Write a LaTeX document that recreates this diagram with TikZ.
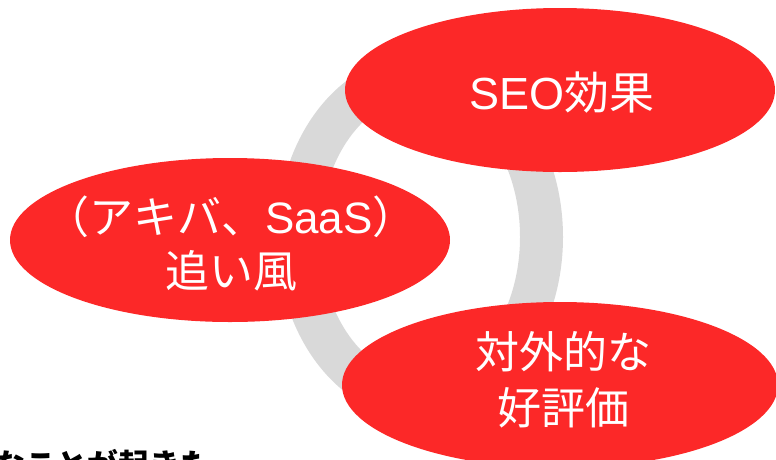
\documentclass[tikz,border=0pt]{standalone}
\usepackage{fontspec}
\setmainfont{Liberation Sans}
\newfontfamily\cjk{Noto Sans CJK JP}
\definecolor{ringgray}{RGB}{217,217,217}
\definecolor{bubred}{RGB}{252,40,40}
\usetikzlibrary{shapes.geometric}
\tikzset{
  bubtext/.style={text=white, align=center},
}
\begin{document}
\begin{tikzpicture}[x=1pt,y=-1pt]
\useasboundingbox (0,0) rectangle (776,459);
\clip (0,0) rectangle (776,459);
% ring
\fill[ringgray, even odd rule] (420,237) ellipse [x radius=143, y radius=182]
                               (420,237) ellipse [x radius=100, y radius=140];
% bubbles
\fill[bubred] (230,240) ellipse [x radius=220, y radius=82];
\fill[bubred] (560,90) ellipse [x radius=215, y radius=82];
\fill[bubred] (560,385) ellipse [x radius=218, y radius=83];
\node[bubtext, font=\fontsize{45}{55}\selectfont] (seo) at (562,93) {SEO{\cjk 効果}};
\node[bubtext, font=\fontsize{44}{54}\selectfont] (oi) at (231,243) {{\cjk （アキバ、}SaaS{\cjk ）}\\{\cjk 追い風}};
\node[bubtext, font=\fontsize{44}{56}\selectfont] (hyo) at (563,380) {{\cjk 対外的な}\\{\cjk 好評価}};
% bottom text (cut off by the picture's edge, as in the reference)
\node[anchor=base west, inner sep=0pt, font=\fontsize{31}{31}\selectfont\cjk\bfseries] (txt) at (-6,476) {なことが起きた};
\end{tikzpicture}
\end{document}
